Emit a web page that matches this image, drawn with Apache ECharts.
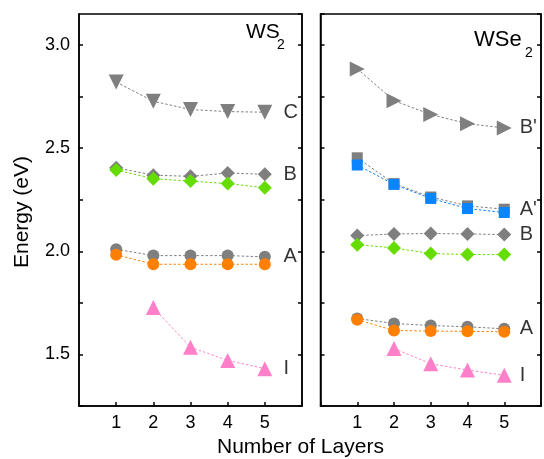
<!DOCTYPE html>
<html>
<head>
<meta charset="utf-8">
<script src="https://cdn.jsdelivr.net/npm/echarts@6/dist/echarts.min.js"></script>
<style>html,body{margin:0;padding:0;background:#fff}#c{width:544px;height:459px}</style>
</head>
<body>
<div id="c"></div>
<script>
const layers = [1, 2, 3, 4, 5];
const layersI = [2, 3, 4, 5];
const yTickLabels = ['1.5', '2.0', '2.5', '3.0'];
const xTickLabels = ['1', '2', '3', '4', '5'];

// WS2 panel
const ws2_C = [2.82, 2.727, 2.687, 2.677, 2.674];
const ws2_B_grey = [2.405, 2.369, 2.363, 2.379, 2.373];
const ws2_B_green = [2.394, 2.352, 2.340, 2.328, 2.308];
const ws2_A_grey = [2.010, 1.979, 1.979, 1.979, 1.973];
const ws2_A_orange = [1.983, 1.937, 1.937, 1.937, 1.937];
const ws2_I = [1.727, 1.535, 1.471, 1.431];

// WSe2 panel
const wse2_Bp = [2.884, 2.730, 2.663, 2.618, 2.598];
const wse2_Ap_grey = [2.453, 2.328, 2.263, 2.220, 2.204];
const wse2_Ap_blue = [2.418, 2.324, 2.256, 2.207, 2.188];
const wse2_B_grey = [2.076, 2.084, 2.086, 2.084, 2.081];
const wse2_B_green = [2.032, 2.016, 1.989, 1.984, 1.984];
const wse2_A_grey = [1.674, 1.650, 1.640, 1.634, 1.624];
const wse2_A_orange = [1.668, 1.616, 1.613, 1.612, 1.610];
const wse2_I = [1.529, 1.455, 1.424, 1.399];

const ws2Labels = [['C', 2.674], ['B', 2.373], ['A', 1.973], ['I', 1.431]];
const wse2Labels = [["B'", 2.598], ["A'", 2.204], ['B', 2.081], ['A', 1.624], ['I', 1.399]];

const GREY = '#7f7f7f', GREEN = '#66dd00', ORANGE = '#ff8000', BLUE = '#0a84ff', PINK = '#ff80c8';
const FONT = 'Liberation Sans';

const zip = (xs, ys) => xs.map((x, i) => [x, ys[i]]);

function mkSeries(g, xs, ys, color, symbol, size, rot, z) {
  return {
    type: 'line', xAxisIndex: g, yAxisIndex: g * 2, data: zip(xs, ys),
    symbol: symbol, symbolSize: size, symbolRotate: rot || 0,
    showSymbol: true, z: z || 2,
    lineStyle: { color: color, width: 1, type: [2.5, 2] },
    itemStyle: { color: color, opacity: 1 },
    emphasis: { disabled: true }, animation: false
  };
}

function labelSeries(g, labels, xPos, dx) {
  return {
    type: 'scatter', xAxisIndex: g, yAxisIndex: g * 2,
    data: labels.map(l => ({ value: [xPos, l[1]], name: l[0] })),
    symbolSize: 0, silent: true, animation: false,
    label: { show: true, position: 'right', formatter: p => p.name, color: '#000',
      fontFamily: FONT, fontSize: 20, offset: [dx, 0] }
  };
}

const grids = [
  { left: 79, top: 14, width: 223, height: 392 },
  { left: 320.5, top: 14, width: 222.5, height: 392 }
];

const yAxisBase = (g, pos, showLabels) => ({
  type: 'value', gridIndex: g, position: pos, min: 1.25, max: 3.15, interval: 0.25,
  axisLine: { show: true, lineStyle: { color: '#000', width: 1.5 } },
  axisTick: { show: true, inside: true, length: 4, lineStyle: { color: '#000', width: 1.5 } },
  axisLabel: { show: showLabels, showMaxLabel: false, fontFamily: FONT, fontSize: 18, color: '#000', margin: 9,
    formatter: v => { const s = v.toFixed(1); return (yTickLabels.indexOf(s) >= 0 && Math.abs(v*2 - Math.round(v*2)) < 1e-6) ? s : ''; } },
  splitLine: { show: false }
});

const xAxisBase = g => ({
  type: 'value', gridIndex: g, min: 0, max: 6, interval: 1,
  axisLine: { show: true, lineStyle: { color: '#000', width: 1.5 } },
  axisTick: { show: true, inside: true, length: 4, lineStyle: { color: '#000', width: 1.5 } },
  axisLabel: { fontFamily: FONT, fontSize: 18, color: '#000', margin: 8,
    formatter: v => xTickLabels.indexOf(String(v)) >= 0 ? String(v) : '' },
  splitLine: { show: false }
});

const txt = (text, left, top, size, extra) => Object.assign({
  type: 'text', left: left, top: top, silent: true,
  style: { text: text, fontFamily: FONT, fontSize: size, fill: '#000' }
}, extra || {});

const chart = echarts.init(document.getElementById('c'), null, { renderer: 'canvas' });
chart.setOption({
  animation: false,
  grid: grids.map(g => Object.assign({ show: true, borderColor: '#000', borderWidth: 1.5, backgroundColor: 'transparent' }, g)),
  xAxis: [xAxisBase(0), xAxisBase(1)],
  yAxis: [yAxisBase(0, 'left', true), yAxisBase(0, 'right', false), yAxisBase(1, 'left', false), yAxisBase(1, 'right', false)],
  graphic: [
    txt('WS', 246, 22, 21),
    txt('2', 277, 38, 14),
    txt('WSe', 474, 29, 22),
    txt('2', 525, 46, 14),
    txt('Number of Layers', 217, 437, 21),
    { type: 'text', x: 12, y: 268, rotation: Math.PI / 2, silent: true,
      style: { text: 'Energy (eV)', fontFamily: FONT, fontSize: 21, fill: '#000' } }
  ],
  series: [
    mkSeries(0, layers, ws2_C, GREY, 'triangle', 15, 180),
    mkSeries(0, layers, ws2_B_grey, GREY, 'diamond', 14, 0),
    mkSeries(0, layers, ws2_B_green, GREEN, 'diamond', 14, 0, 3),
    mkSeries(0, layers, ws2_A_grey, GREY, 'circle', 12, 0),
    mkSeries(0, layers, ws2_A_orange, ORANGE, 'circle', 12, 0, 3),
    mkSeries(0, layersI, ws2_I, PINK, 'triangle', 15, 0),
    mkSeries(1, layers, wse2_Bp, GREY, 'triangle', 15, -90),
    mkSeries(1, layers, wse2_Ap_grey, GREY, 'rect', 11, 0),
    mkSeries(1, layers, wse2_Ap_blue, BLUE, 'rect', 11, 0, 3),
    mkSeries(1, layers, wse2_B_grey, GREY, 'diamond', 14, 0),
    mkSeries(1, layers, wse2_B_green, GREEN, 'diamond', 14, 0, 3),
    mkSeries(1, layers, wse2_A_grey, GREY, 'circle', 12, 0),
    mkSeries(1, layers, wse2_A_orange, ORANGE, 'circle', 12, 0, 3),
    mkSeries(1, layersI, wse2_I, PINK, 'triangle', 15, 0),
    labelSeries(0, ws2Labels, 5.5, -5),
    labelSeries(1, wse2Labels, 5.5, -8)
  ]
});
</script>
</body>
</html>
